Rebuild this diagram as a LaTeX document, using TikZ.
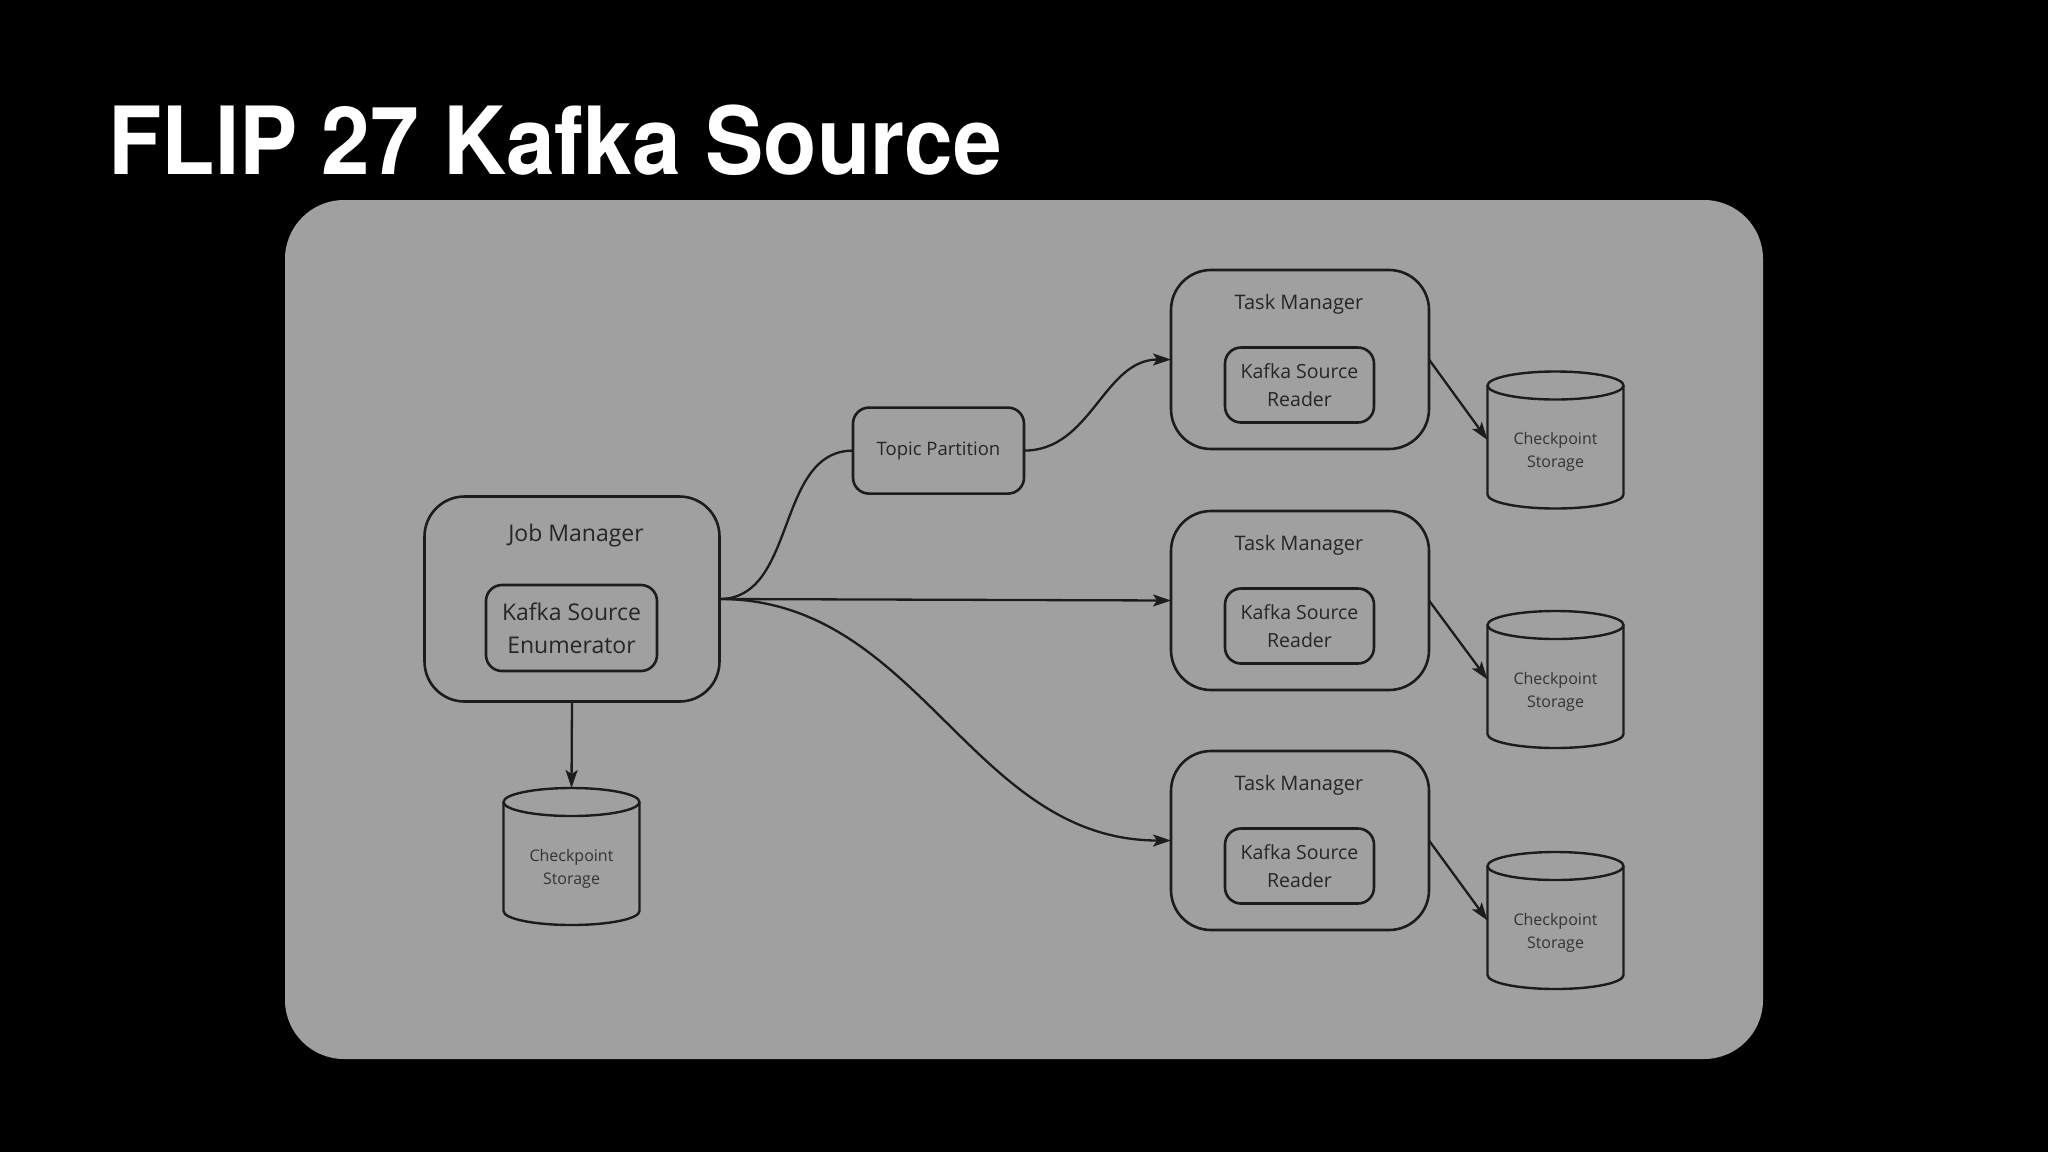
\documentclass[tikz,border=0pt]{standalone}
\usepackage{fontspec}
\setmainfont{Open Sans}
\newfontfamily\titlefont{TeX Gyre Heros}
\usetikzlibrary{arrows.meta}
\definecolor{panelgray}{HTML}{A0A0A0}
\definecolor{ink}{HTML}{1C1C1C}
\definecolor{txt}{HTML}{262626}
\definecolor{txtlight}{HTML}{333333}
\begin{document}
\begin{tikzpicture}[x=1pt,y=1pt,
  outerbox/.style={draw=ink,line width=2.6pt,rounded corners=40pt,inner sep=0pt,outer sep=0pt},
  innerbox/.style={draw=ink,line width=2.6pt,rounded corners=16pt,inner sep=0pt,outer sep=0pt,align=center,text=txt},
  lbl/.style={text=txt,inner sep=0pt},
  cylbody/.style={inner sep=0pt,outer sep=0pt,minimum width=136pt,minimum height=137pt},
  cyltext/.style={inner sep=0pt,align=center,text=txtlight,font=\fontsize{16}{23}\selectfont},
  cylline/.style={draw=ink,line width=2.4pt},
  link/.style={draw=ink,line width=2.3pt},
  arr/.style={link,-{Stealth[length=18pt,width=12pt,inset=4pt]}}
]
% background and bounding box
\fill[black] (0,0) rectangle (2048,-1152);
\useasboundingbox (0,0) rectangle (2048,-1152);
% title
\node[anchor=base west,inner sep=0pt,text=white,font=\titlefont\bfseries\fontsize{94}{100}\selectfont,xscale=0.93,transform shape] (title) at (108,-174) {FLIP 27 Kafka Source};
% panel
\fill[panelgray,rounded corners=59pt] (285,-200) rectangle (1763,-1059);

% Job manager
\node[outerbox,minimum width=295pt,minimum height=205pt] (jm) at (572,-599) {};
\node[lbl,font=\fontsize{23}{30}\selectfont] (jmt) at (576,-536) {Job Manager};
\node[innerbox,minimum width=171pt,minimum height=86pt,font=\fontsize{23}{32.7}\selectfont] (enum) at (571.5,-628) {Kafka Source\\Enumerator};

% Topic partition
\node[innerbox,minimum width=171pt,minimum height=86pt,font=\fontsize{18.5}{24}\selectfont] (tp) at (938.5,-450.6) {Topic Partition};

% Task managers
\foreach \i/\cy in {1/359.5,2/600.5,3/840.5}{
  \node[outerbox,minimum width=258pt,minimum height=179pt] (tm\i) at (1300,-\cy) {};
  \node[lbl,font=\fontsize{20}{26}\selectfont] (tm\i t) at (1299,-\cy+55.5) {Task Manager};
  \node[innerbox,minimum width=149pt,minimum height=75pt,font=\fontsize{19.5}{27.4}\selectfont] (rd\i) at (1299.5,-\cy-25.5) {Kafka Source\\Reader};
}

% Checkpoint storages
\node[cylbody] (cp0) at (571.5,-856.5) {};
\node[cylbody] (cp1) at (1555.5,-440) {};
\node[cylbody] (cp2) at (1555.5,-679.5) {};
\node[cylbody] (cp3) at (1555.5,-920.5) {};
\foreach \c in {cp0,cp1,cp2,cp3}{
  \draw[cylline] ([yshift=-14pt]\c.north) ellipse[x radius=68pt,y radius=14pt];
  \draw[cylline] ([yshift=-14pt]\c.north west) -- ([yshift=14pt]\c.south west)
     arc[start angle=180,end angle=360,x radius=68pt,y radius=14pt] -- ([yshift=-14pt]\c.north east);
  \node[cyltext] (\c t) at ([yshift=-12pt]\c.center) {Checkpoint\\Storage};
}

% connectors
\draw[arr] (jm.south) -- (cp0.north);
\draw[link] (jm.east) to[out=0,in=180] (tp.west);
\draw[arr] (tp.east) to[out=0,in=180] (tm1.west);
\draw[arr] (jm.east) -- (tm2.west);
\draw[arr] (jm.east) to[out=0,in=180] (tm3.west);
\draw[arr] (tm1.east) -- (cp1.west);
\draw[arr] (tm2.east) -- (cp2.west);
\draw[arr] (tm3.east) -- (cp3.west);
\end{tikzpicture}
\end{document}
